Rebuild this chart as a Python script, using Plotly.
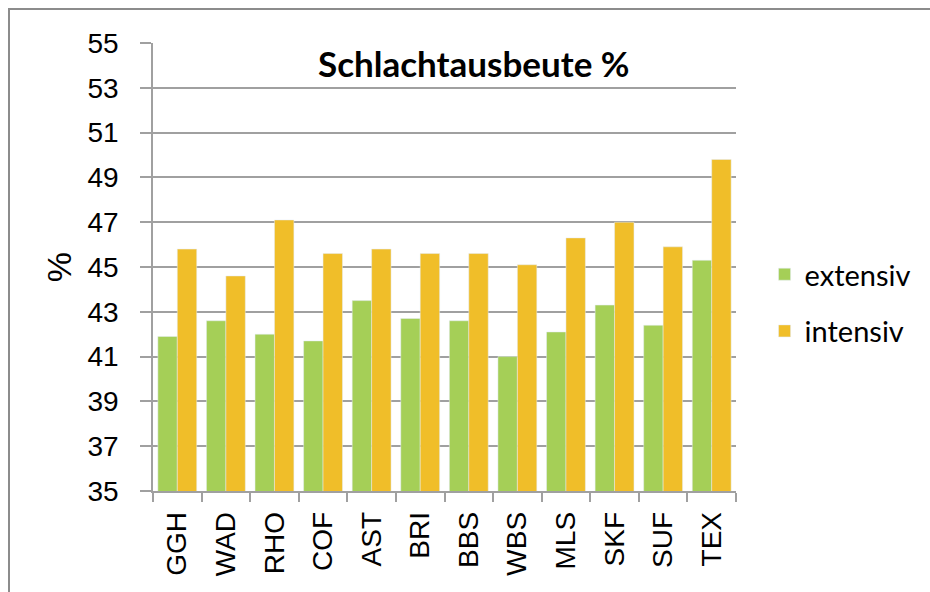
import plotly.graph_objects as go

categories = ["GGH", "WAD", "RHO", "COF", "AST", "BRI", "BBS", "WBS", "MLS", "SKF", "SUF", "TEX"]
extensiv = [41.9, 42.6, 42.0, 41.7, 43.5, 42.7, 42.6, 41.0, 42.1, 43.3, 42.4, 45.3]
intensiv = [45.8, 44.6, 47.1, 45.6, 45.8, 45.6, 45.6, 45.1, 46.3, 47.0, 45.9, 49.8]
y_ticks = list(range(35, 56, 2))

GREEN = "#A5CF57"
ORANGE = "#F0BE29"
GRID = "#A0A0A0"

fig = go.Figure()
fig.add_trace(go.Bar(x=categories, y=extensiv, name="extensiv", marker_color=GREEN,
                     legendgroup="a"))
fig.add_trace(go.Bar(x=categories, y=intensiv, name="intensiv", marker_color=ORANGE,
                     legendgroup="b"))

fig.update_layout(
    width=930, height=592,
    margin=dict(l=153, r=194, t=43, b=101),
    plot_bgcolor="white", paper_bgcolor="white",
    barmode="group", bargap=0.2, bargroupgap=0,
    font=dict(family="Liberation Sans, Arial, sans-serif", size=28, color="black"),
    showlegend=True,
    legend=dict(x=1.049, y=0.42, xanchor="left", yanchor="middle",
                font=dict(family="Lato, sans-serif", size=29),
                tracegroupgap=16, itemwidth=30),
    annotations=[dict(text="<b>Schlachtausbeute %</b>", x=0.55, y=0.955, xref="paper", yref="paper",
                      xanchor="center", yanchor="middle", showarrow=False,
                      font=dict(family="Lato, sans-serif", size=35, color="black"))],
    shapes=[dict(type="rect", xref="paper", yref="paper", x0=-0.247, x1=1.5, y0=-0.3, y1=1.076,
                 line=dict(color="#8C8C8C", width=2), fillcolor="rgba(0,0,0,0)", layer="below")],
)

fig.update_xaxes(
    type="category", tickangle=-90, tickson="boundaries", automargin=False,
    ticks="outside", ticklen=9, tickcolor=GRID, tickwidth=1.5, ticklabelstandoff=8,
    showline=True, linecolor=GRID, linewidth=1.5, showgrid=False,
)
fig.update_yaxes(
    range=[35, 55], tickvals=y_ticks, automargin=False,
    ticks="outside", ticklen=11, tickcolor=GRID, tickwidth=1.5, ticklabelstandoff=16,
    showline=True, linecolor=GRID, linewidth=1.5,
    showgrid=True, gridcolor=GRID, gridwidth=1.5, zeroline=False,
    title=dict(text="%", standoff=6),
)

fig.write_html("out.html", config={"displayModeBar": False},
               post_script="document.body.style.margin='0';")
